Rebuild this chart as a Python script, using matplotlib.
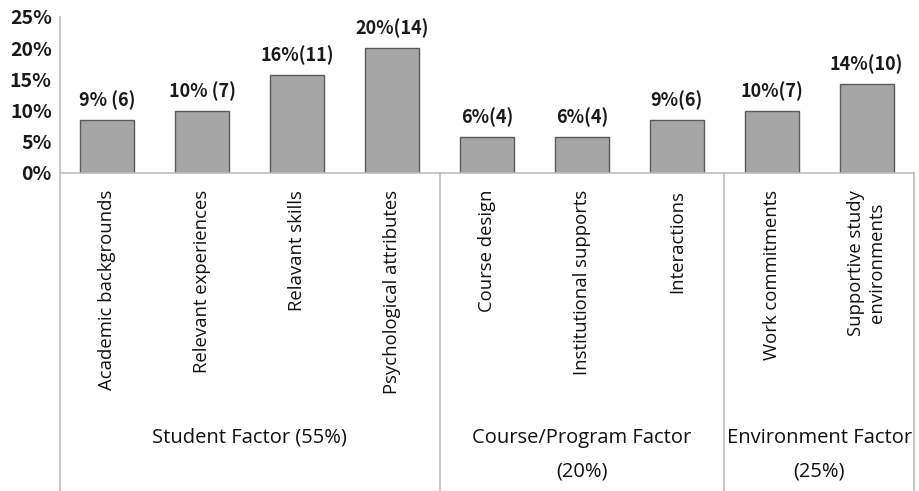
import numpy as np
import matplotlib
matplotlib.use("Agg")
import matplotlib.pyplot as plt
import matplotlib.transforms as mtransforms

# data
categories = ["Academic backgrounds", "Relevant experiences", "Relavant skills",
              "Psychological attributes", "Course design", "Institutional supports",
              "Interactions", "Work commitments", "Supportive study\nenvironments"]
counts = [6, 7, 11, 14, 4, 4, 6, 7, 10]
total = 70
value_labels = ["9% (6)", "10% (7)", "16%(11)", "20%(14)", "6%(4)", "6%(4)",
                "9%(6)", "10%(7)", "14%(10)"]
groups = ["Student Factor (55%)", "Course/Program Factor\n(20%)", "Environment Factor\n(25%)"]
group_sizes = [4, 3, 2]
yticks = [0, 5, 10, 15, 20, 25]

pct = [c / total * 100 for c in counts]
x = np.arange(len(categories))

fig = plt.figure(figsize=(9.2, 4.91), dpi=100)
ax = fig.add_axes([60 / 920, 1 - 173 / 491, 854 / 920, 156 / 491])

cjk = ["Noto Sans CJK KR", "DejaVu Sans"]
bars = ax.bar(x, pct, width=0.57, color="#a6a6a6", edgecolor="#5a5a5a", linewidth=1.0, zorder=3)
for b, lab in zip(bars, value_labels):
    ax.annotate(lab, (b.get_x() + b.get_width() / 2, b.get_height()),
                xytext=(0, 7), textcoords="offset points", ha="center", va="bottom",
                fontsize=13, fontfamily=cjk, fontweight="bold", color="#1a1a1a")

ax.set_xlim(-0.5, len(categories) - 0.5)
ax.set_ylim(0, 25)
ax.set_yticks(yticks)
ax.set_yticklabels([f"{t}%" for t in yticks], fontsize=14,
                   fontfamily=cjk, fontweight="bold", color="#1a1a1a")
ax.tick_params(axis="y", length=0, pad=6)
ax.set_xticks(x)
ax.set_xticklabels(categories, rotation=90, fontsize=13.3, fontfamily="Open Sans", color="#111111")
ax.tick_params(axis="x", length=0, pad=12)
for s in ax.spines.values():
    s.set_visible(False)

# axis / separator lines going down to the bottom of the figure
line_col = "#bdbdbd"
trans = mtransforms.blended_transform_factory(ax.transData, fig.transFigure)
ax.plot([-0.5, len(categories) - 0.5], [0, 0], color=line_col, lw=1.2, clip_on=False, zorder=4)
ax.plot([-0.5, -0.5], [0, 25], color=line_col, lw=1.2, clip_on=False)
bounds = np.concatenate([[0], np.cumsum(group_sizes)]) - 0.5
y_axis_fig = 1 - 173 / 491
for bx in bounds:
    ax.plot([bx, bx], [0, y_axis_fig], color=line_col, lw=1.2, transform=trans, clip_on=False)

# group labels
start = 0
for g, n in zip(groups, group_sizes):
    cx = start + (n - 1) / 2
    for k, line in enumerate(g.split("\n")):
        ax.text(cx, 1 - (438 + 34 * k) / 491, line, transform=trans, ha="center", va="center",
                fontsize=14.5, fontfamily="Open Sans", color="#111111")
    start += n

fig.savefig("out.png", dpi=100)
